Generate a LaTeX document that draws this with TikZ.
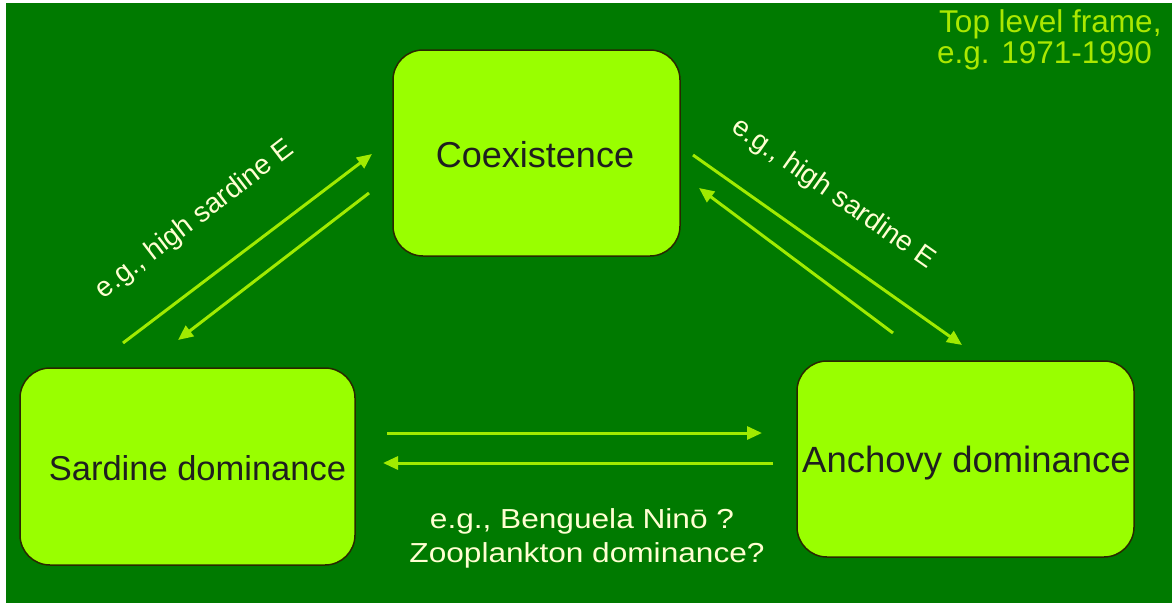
\documentclass[tikz,border=0pt]{standalone}
\usepackage{fontspec}
\setmainfont{Liberation Sans}
\newfontfamily\widesans[FakeStretch=1.15]{Liberation Sans}
\usetikzlibrary{arrows.meta}
\definecolor{bg}{RGB}{0,122,0}
\definecolor{lime}{RGB}{153,255,0}
\definecolor{arrowc}{RGB}{160,235,0}
\definecolor{cream}{RGB}{255,255,210}
\definecolor{toptext}{RGB}{170,232,0}
\definecolor{boxedge}{RGB}{40,40,0}
\begin{document}
\begin{tikzpicture}[x=1pt,y=-1pt,
  statebox/.style={draw=boxedge,line width=1.5pt,fill=lime,rounded corners=30pt,inner sep=0pt},
  boxtext/.style={text=black!88,inner sep=0pt,anchor=base},
  flow/.style={draw=arrowc,line width=3pt,-{Triangle[length=15pt,width=13pt]}},
  note/.style={text=cream,font=\fontsize{28}{30}\selectfont,inner sep=0pt},
  bottomnote/.style={text=cream,font=\widesans\fontsize{27.5}{34}\selectfont,inner sep=0pt,anchor=base},
  topnote/.style={text=toptext,font=\fontsize{31.5}{32}\selectfont,inner sep=0pt,anchor=base west}]
\useasboundingbox (0,0) rectangle (1172,603);
\fill[white] (0,0) rectangle (1172,603);
\fill[bg] (6,3) rectangle (1172,603);

% boxes
\node[statebox,minimum width=287pt,minimum height=206pt] (coex) at (536.5,153) {};
\node[statebox,minimum width=335pt,minimum height=197pt] (sard) at (187.5,466.5) {};
\node[statebox,minimum width=337pt,minimum height=196pt] (anch) at (965.5,459) {};
\node[boxtext,font=\fontsize{36}{40}\selectfont] (coext) at (535,167) {Coexistence};
\node[boxtext,font=\fontsize{34.5}{40}\selectfont] (sardt) at (197.5,480) {Sardine dominance};
\node[boxtext,font=\fontsize{36.5}{40}\selectfont] (ancht) at (966.5,472) {Anchovy dominance};

% arrow end points
\coordinate (lua) at (123,343);  \coordinate (lub) at (372,154);
\coordinate (lda) at (369,193);  \coordinate (ldb) at (178,340);
\coordinate (rda) at (693,155);  \coordinate (rdb) at (962,345);
\coordinate (rua) at (893,333);  \coordinate (rub) at (699,188);
\coordinate (hra) at (387,433);  \coordinate (hrb) at (762,433);
\coordinate (hla) at (773,463);  \coordinate (hlb) at (383,463);

\draw[flow] (lua) -- (lub);
\draw[flow] (lda) -- (ldb);
\draw[flow] (rda) -- (rdb);
\draw[flow] (rua) -- (rub);
\draw[flow] (hra) -- (hrb);
\draw[flow] (hla) -- (hlb);

% labels
\node[note,rotate=37.5] (lnote) at (195,220) {e.g., high sardine E};
\node[note,rotate=-35] (rnote) at (833,194) {e.g., high sardine E};
\node[bottomnote] (b1) at (582,528) {e.g., Benguela Ninō ?};
\node[bottomnote] (b2) at (587,562) {Zooplankton dominance?};
\node[topnote] (t1) at (939,32) {Top level frame,};
\node[topnote] (t2) at (937,63) {e.g. 1971-1990};
\end{tikzpicture}
\end{document}
